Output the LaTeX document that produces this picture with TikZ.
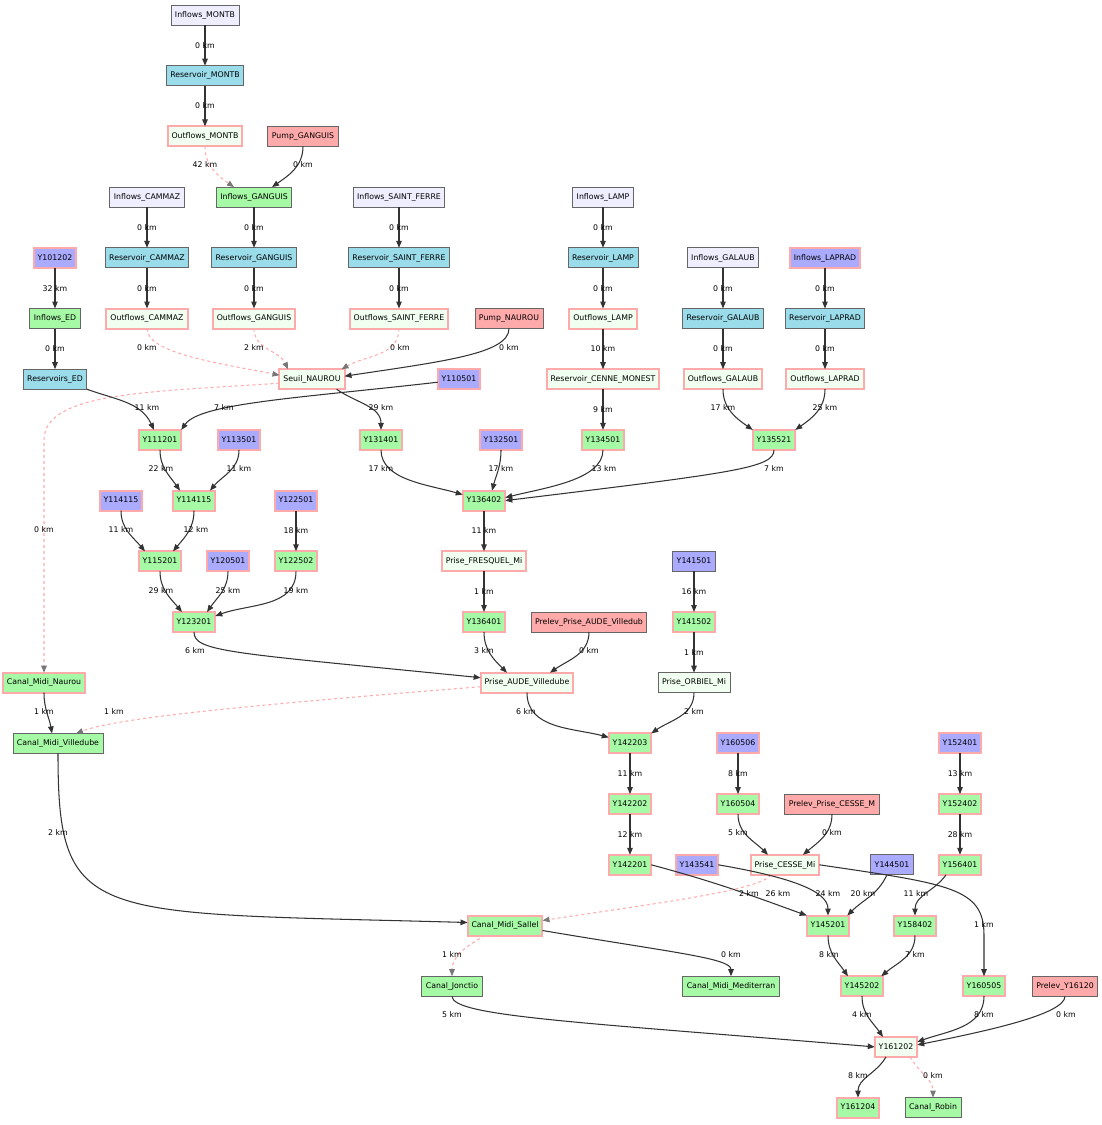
\documentclass[tikz,border=0pt]{standalone}
\usepackage{fontspec}
\setmainfont{DejaVu Sans}
\usetikzlibrary{positioning,arrows.meta}

\definecolor{inflowc}{HTML}{EEEEFF}
\definecolor{resc}{HTML}{9BDCEB}
\definecolor{honey}{HTML}{F0FFF0}
\definecolor{greenc}{HTML}{A6FAA6}
\definecolor{purplec}{HTML}{AAAAFF}
\definecolor{redc}{HTML}{FFAAAA}
\definecolor{pinkc}{HTML}{FFAAAA}
\definecolor{greyc}{HTML}{666666}
\definecolor{linec}{HTML}{333333}
\definecolor{tipc}{HTML}{777777}

\tikzset{
  box/.style={draw, rectangle, minimum height=20pt, inner xsep=4pt, inner ysep=0pt,
    outer sep=0pt, text height=5.8pt, text depth=1.4pt, font=\fontsize{7.8}{9}\selectfont, line width=0.9pt},
  inflow/.style={box, fill=inflowc, draw=greyc},
  resv/.style={box, fill=resc, draw=greyc},
  outfl/.style={box, fill=honey, draw=pinkc, line width=2pt},
  prise/.style={box, fill=honey, draw=greyc},
  gauge/.style={box, fill=greenc, draw=pinkc, line width=2pt},
  canal/.style={box, fill=greenc, draw=greyc},
  station/.style={box, fill=purplec, draw=pinkc, line width=2pt},
  stationg/.style={box, fill=purplec, draw=greyc},
  pump/.style={box, fill=redc, draw=greyc},
  flow/.style={draw=linec, line width=1.05pt, -{Triangle[length=7pt,width=5.5pt]}},
  spill/.style={draw=pinkc, line width=1.05pt, dash pattern=on 3pt off 3pt,
    -{Triangle[length=7pt,width=5.5pt,color=tipc]}},
  km/.style={font=\fontsize{7.8}{9}\selectfont, inner sep=0pt}
}

\begin{document}
\begin{tikzpicture}[x=1pt, y=-1pt, node distance=40.7pt]
\useasboundingbox (0,0) rectangle (1102,1125);

% upper reservoirs
\node[inflow] (inMONTB) at (205,15) {Inflows\_MONTB};
\node[resv, below=of inMONTB] (resMONTB) {Reservoir\_MONTB};
\node[outfl, below=of resMONTB] (outMONTB) {Outflows\_MONTB};
\node[pump] (pumpGANG) at (303,136.4) {Pump\_GANGUIS};

\node[inflow] (inCAMMAZ) at (147,197.1) {Inflows\_CAMMAZ};
\node[resv, below=of inCAMMAZ] (resCAMMAZ) {Reservoir\_CAMMAZ};
\node[outfl, below=of resCAMMAZ] (outCAMMAZ) {Outflows\_CAMMAZ};
\node[canal] (inGANG) at (254,197.1) {Inflows\_GANGUIS};
\node[resv, below=of inGANG] (resGANG) {Reservoir\_GANGUIS};
\node[outfl, below=of resGANG] (outGANG) {Outflows\_GANGUIS};
\node[inflow] (inSF) at (399,197.1) {Inflows\_SAINT\_FERRE};
\node[resv, below=of inSF] (resSF) {Reservoir\_SAINT\_FERRE};
\node[outfl, below=of resSF] (outSF) {Outflows\_SAINT\_FERRE};
\node[inflow] (inLAMP) at (603,197.1) {Inflows\_LAMP};
\node[resv, below=of inLAMP] (resLAMP) {Reservoir\_LAMP};
\node[outfl, below=of resLAMP] (outLAMP) {Outflows\_LAMP};
\node[outfl, below=of outLAMP] (resCENNE) {Reservoir\_CENNE\_MONEST};
\node[gauge, below=of resCENNE] (y134501) {Y134501};

\node[station] (y101202) at (55,257.8) {Y101202};
\node[canal, below=of y101202] (inED) {Inflows\_ED};
\node[resv, below=of inED] (resED) {Reservoirs\_ED};
\node[inflow] (inGALAUB) at (723,257.8) {Inflows\_GALAUB};
\node[resv, below=of inGALAUB] (resGALAUB) {Reservoir\_GALAUB};
\node[outfl, below=of resGALAUB] (outGALAUB) {Outflows\_GALAUB};
\node[station] (inLAPRAD) at (825,257.8) {Inflows\_LAPRAD};
\node[resv, below=of inLAPRAD] (resLAPRAD) {Reservoir\_LAPRAD};
\node[outfl, below=of resLAPRAD] (outLAPRAD) {Outflows\_LAPRAD};
\node[pump] (pumpNAUROU) at (509,318.5) {Pump\_NAUROU};

% Fresquel and Aude
\node[outfl] (seuil) at (312,379.2) {Seuil\_NAUROU};
\node[station] (y110501) at (459,379.2) {Y110501};
\node[gauge] (y111201) at (160,439.9) {Y111201};
\node[station] (y113501) at (239,439.9) {Y113501};
\node[gauge] (y131401) at (381,439.9) {Y131401};
\node[station] (y132501) at (501,439.9) {Y132501};
\node[gauge] (y135521) at (774,439.9) {Y135521};
\node[station] (y114115a) at (121,500.6) {Y114115};
\node[gauge] (y114115b) at (194,500.6) {Y114115};
\node[station] (y122501) at (296,500.6) {Y122501};
\node[gauge, below=of y122501] (y122502) {Y122502};
\node[gauge] (y136402) at (484,500.6) {Y136402};
\node[outfl, below=of y136402] (priseFRESQUEL) {Prise\_FRESQUEL\_Mi};
\node[gauge, below=of priseFRESQUEL] (y136401) {Y136401};
\node[gauge] (y115201) at (160,561.3) {Y115201};
\node[station] (y120501) at (228,561.3) {Y120501};
\node[stationg] (y141501) at (694,561.3) {Y141501};
\node[gauge, below=of y141501] (y141502) {Y141502};
\node[prise, below=of y141502] (priseORBIEL) {Prise\_ORBIEL\_Mi};
\node[gauge] (y123201) at (194,622) {Y123201};
\node[pump] (prelevAUDE) at (589,622) {Prelev\_Prise\_AUDE\_Villedub};
\node[gauge] (cmNaurou) at (44,682.7) {Canal\_Midi\_Naurou};
\node[outfl] (priseAUDE) at (527,682.7) {Prise\_AUDE\_Villedube};

% lower part
\node[canal] (cmVille) at (58,743.4) {Canal\_Midi\_Villedube};
\node[gauge] (y142203) at (630,743.4) {Y142203};
\node[gauge, below=of y142203] (y142202) {Y142202};
\node[gauge, below=of y142202] (y142201) {Y142201};
\node[station] (y160506) at (738,743.4) {Y160506};
\node[gauge, below=of y160506] (y160504) {Y160504};
\node[station] (y152401) at (960,743.4) {Y152401};
\node[gauge, below=of y152401] (y152402) {Y152402};
\node[gauge, below=of y152402] (y156401) {Y156401};
\node[pump] (prelevCESSE) at (832,804.1) {Prelev\_Prise\_CESSE\_M};
\node[station] (y143541) at (697,864.8) {Y143541};
\node[outfl] (priseCESSE) at (785,864.8) {Prise\_CESSE\_Mi};
\node[stationg] (y144501) at (892,864.8) {Y144501};
\node[gauge] (sallel) at (505,925.5) {Canal\_Midi\_Sallel};
\node[gauge] (y145201) at (828,925.5) {Y145201};
\node[gauge] (y158402) at (915,925.5) {Y158402};
\node[canal] (jonctio) at (452,986.2) {Canal\_Jonctio};
\node[canal] (mediterran) at (731,986.2) {Canal\_Midi\_Mediterran};
\node[gauge] (y145202) at (862,986.2) {Y145202};
\node[gauge] (y160505) at (984,986.2) {Y160505};
\node[pump] (prelevY16) at (1065,986.2) {Prelev\_Y16120};
\node[outfl] (y161202) at (896,1046.9) {Y161202};
\node[gauge] (y161204) at (858,1107.6) {Y161204};
\node[canal] (robin) at (933,1107.6) {Canal\_Robin};

% reservoir chains
\draw[flow] (inMONTB) -- node[km]{0 km} (resMONTB);
\draw[flow] (resMONTB) -- node[km]{0 km} (outMONTB);
\draw[spill] (outMONTB.south) to[out=-90,in=145] ([xshift=-20pt]inGANG.north) node[km] at (205,165) {42 km};
\draw[flow] (pumpGANG.south) to[out=-90,in=35] ([xshift=18pt]inGANG.north) node[km] at (303,165) {0 km};
\draw[flow] (inCAMMAZ) -- node[km]{0 km} (resCAMMAZ);
\draw[flow] (resCAMMAZ) -- node[km]{0 km} (outCAMMAZ);
\draw[flow] (inGANG) -- node[km]{0 km} (resGANG);
\draw[flow] (resGANG) -- node[km]{0 km} (outGANG);
\draw[flow] (inSF) -- node[km]{0 km} (resSF);
\draw[flow] (resSF) -- node[km]{0 km} (outSF);
\draw[flow] (inLAMP) -- node[km]{0 km} (resLAMP);
\draw[flow] (resLAMP) -- node[km]{0 km} (outLAMP);
\draw[flow] (outLAMP) -- node[km]{10 km} (resCENNE);
\draw[flow] (resCENNE) -- node[km]{9 km} (y134501);
\draw[flow] (y101202) -- node[km]{32 km} (inED);
\draw[flow] (inED) -- node[km]{0 km} (resED);
\draw[flow] (inGALAUB) -- node[km]{0 km} (resGALAUB);
\draw[flow] (resGALAUB) -- node[km]{0 km} (outGALAUB);
\draw[flow] (inLAPRAD) -- node[km]{0 km} (resLAPRAD);
\draw[flow] (resLAPRAD) -- node[km]{0 km} (outLAPRAD);

% into Seuil_NAUROU
\draw[spill] (outCAMMAZ.south) .. controls +(0,25) and +(-60,-12) .. ([yshift=4pt]seuil.west) node[km] at (147,348) {0 km};
\draw[spill] (outGANG.south) to[out=-90,in=115] ([xshift=-24pt]seuil.north) node[km] at (254,348) {2 km};
\draw[spill] (outSF.south) to[out=-90,in=30] ([xshift=-3pt]seuil.north east) node[km] at (400,348) {0 km};
\draw[flow] (pumpNAUROU.south) .. controls +(0,25) and +(100,-15) .. ([yshift=3pt]seuil.east) node[km] at (509,348) {0 km};
\draw[flow] ([xshift=-8pt]seuil.south east) to[out=-35,in=90] (y131401.north) node[km] at (381,408) {29 km};
\draw[spill] ([yshift=-4pt]seuil.west) .. controls (150,392) and (44,392) .. (44,440) -- (cmNaurou) node[km] at (44,530) {0 km};

% Fresquel
\draw[flow] (resED.south east) to[out=-20,in=115] ([xshift=-6pt]y111201.north) node[km] at (147,408) {11 km};
\draw[flow] ([yshift=-3pt]y110501.west) .. controls (300,398) and (200,403) .. (y111201.north east) node[km] at (224,408) {7 km};
\draw[flow] (y111201.south) to[out=-90,in=125] ([xshift=-14pt]y114115b.north) node[km] at (161,469) {22 km};
\draw[flow] (y113501.south) to[out=-90,in=50] ([xshift=16pt]y114115b.north) node[km] at (239,469) {11 km};
\draw[flow] (y114115a.south) to[out=-90,in=130] ([xshift=-15pt]y115201.north) node[km] at (121,530) {11 km};
\draw[flow] (y114115b.south) to[out=-90,in=50] ([xshift=13pt]y115201.north) node[km] at (196,530) {12 km};
\draw[flow] (y122501) -- node[km]{18 km} (y122502);
\draw[flow] (y115201.south) to[out=-90,in=130] ([xshift=-12pt]y123201.north) node[km] at (161,591) {29 km};
\draw[flow] (y120501.south) to[out=-90,in=55] ([xshift=13pt]y123201.north) node[km] at (228,591) {25 km};
\draw[flow] (y122502.south) to[out=-90,in=20] ([yshift=6pt]y123201.east) node[km] at (296,591) {19 km};

% Aude upstream of Carcassonne
\draw[flow] (y131401.south) .. controls +(0,30) and +(-35,-10) .. ([yshift=6pt]y136402.west) node[km] at (381,469) {17 km};
\draw[flow] (y132501.south) to[out=-90,in=75] ([xshift=8pt]y136402.north) node[km] at (501,469) {17 km};
\draw[flow] (y134501.south) .. controls +(0,30) and +(40,-10) .. ([yshift=3pt]y136402.east) node[km] at (604,469) {13 km};
\draw[flow] (y135521.south) .. controls +(0,18) and +(230,-28) .. (y136402.east) node[km] at (774,469) {7 km};
\draw[flow] (outGALAUB.south) to[out=-90,in=145] (y135521.north west) node[km] at (723,408) {17 km};
\draw[flow] (outLAPRAD.south) to[out=-90,in=35] (y135521.north east) node[km] at (825,408) {25 km};
\draw[flow] (y136402) -- node[km]{11 km} (priseFRESQUEL);
\draw[flow] (priseFRESQUEL) -- node[km]{1 km} (y136401);
\draw[flow] (y136401.south) to[out=-90,in=135] ([xshift=-20pt]priseAUDE.north) node[km] at (484,651) {3 km};
\draw[flow] (prelevAUDE.south) to[out=-90,in=35] ([xshift=23pt]priseAUDE.north) node[km] at (589,651) {0 km};
\draw[flow] (y123201.south) .. controls +(0,20) and +(-250,-25) .. ([yshift=5pt]priseAUDE.west) node[km] at (195,651) {6 km};
\draw[flow] (y141501) -- node[km]{16 km} (y141502);
\draw[flow] (y141502) -- node[km]{1 km} (priseORBIEL);
\draw[flow] (priseORBIEL.south) to[out=-90,in=35] (y142203.north east) node[km] at (694,712) {2 km};
\draw[flow] (priseAUDE.south) to[out=-90,in=165] ([yshift=6pt]y142203.west) node[km] at (526,712) {6 km};

% Canal du Midi
\draw[spill] ([yshift=-4pt]priseAUDE.west) .. controls +(-250,20) and +(40,-15) .. ([xshift=18pt]cmVille.north) node[km] at (114,712) {1 km};
\draw[flow] (cmNaurou.south) to[out=-90,in=100] ([xshift=-6pt]cmVille.north) node[km] at (44,712) {1 km};
\draw[flow] (cmVille.south) .. controls (58,925) and (90,912) .. ([yshift=3pt]sallel.west) node[km] at (58,833) {2 km};

% lower Aude
\draw[flow] (y142203) -- node[km]{11 km} (y142202);
\draw[flow] (y142202) -- node[km]{12 km} (y142201);
\draw[flow] (y142201.east) to[out=-15,in=160] (y145201.north west) node[km] at (778,894) {26 km};
\draw[flow] (y160506) -- node[km]{8 km} (y160504);
\draw[flow] (y160504.south) to[out=-90,in=135] ([xshift=-17pt]priseCESSE.north) node[km] at (738,833) {5 km};
\draw[flow] (prelevCESSE.south) to[out=-90,in=40] ([xshift=18pt]priseCESSE.north) node[km] at (832,833) {0 km};
\draw[spill] ([xshift=-14pt]priseCESSE.south) .. controls +(-10,15) and +(120,-18) .. ([yshift=5pt]sallel.east) node[km] at (749,894) {2 km};
\draw[flow] (priseCESSE.east) .. controls (950,884) and (984,888) .. (984,935) -- (y160505) node[km] at (984,925) {1 km};
\draw[flow] (y143541.east) .. controls +(70,12) and +(0,-25) .. (y145201.north) node[km] at (828,894) {24 km};
\draw[flow] ([xshift=-5pt]y144501.south) to[out=-115,in=45] ([xshift=-2pt]y145201.north east) node[km] at (863,894) {20 km};
\draw[flow] (y152401) -- node[km]{13 km} (y152402);
\draw[flow] (y152402) -- node[km]{28 km} (y156401);
\draw[flow] ([xshift=-14pt]y156401.south) to[out=-125,in=90] (y158402.north) node[km] at (916,894) {11 km};
\draw[flow] (y145201.south) to[out=-90,in=125] ([xshift=-14pt]y145202.north) node[km] at (829,955) {8 km};
\draw[flow] (y158402.south) to[out=-90,in=40] ([xshift=-2pt]y145202.north east) node[km] at (915,955) {7 km};
\draw[spill] ([xshift=-20pt]sallel.south) to[out=-150,in=90] (jonctio.north) node[km] at (452,955) {1 km};
\draw[flow] ([yshift=-5pt]sallel.east) .. controls +(130,22) and +(0,-18) .. (mediterran.north) node[km] at (731,955) {0 km};
\draw[flow] (jonctio.south) .. controls +(0,20) and +(-300,-25) .. (y161202.west) node[km] at (452,1015) {5 km};
\draw[flow] (y145202.south) to[out=-90,in=125] ([xshift=-13pt]y161202.north) node[km] at (862,1015) {4 km};
\draw[flow] (y160505.south) to[out=-90,in=20] ([yshift=5pt]y161202.east) node[km] at (984,1015) {8 km};
\draw[flow] (prelevY16.south) .. controls +(0,18) and +(70,-14) .. ([yshift=2pt]y161202.east) node[km] at (1066,1015) {0 km};
\draw[flow] ([xshift=-10pt]y161202.south) to[out=-120,in=90] (y161204.north) node[km] at (858,1076) {8 km};
\draw[spill] ([xshift=14pt]y161202.south) to[out=-60,in=90] (robin.north) node[km] at (933,1076) {0 km};
\end{tikzpicture}
\end{document}
